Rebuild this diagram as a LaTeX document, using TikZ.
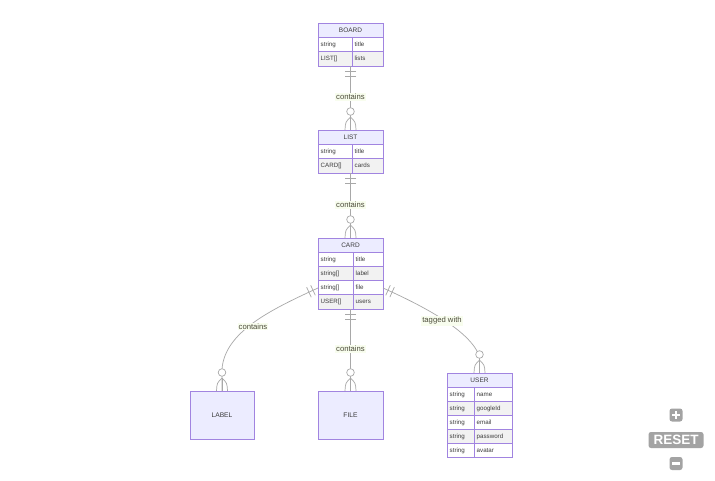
\documentclass[tikz,border=0pt]{standalone}
\usepackage{fontspec}
\setmainfont{Liberation Sans}
\usetikzlibrary{calc}
\definecolor{erborder}{HTML}{A184E0}
\definecolor{erhead}{HTML}{ECECFF}
\definecolor{errow}{HTML}{F2F2F2}
\definecolor{erline}{HTML}{A8A8A8}
\definecolor{ertext}{HTML}{3C3C3C}
\definecolor{lbltext}{HTML}{4C4C3A}
\definecolor{lblfill}{HTML}{F8FDEE}
\definecolor{ctrl}{HTML}{A3A3A3}
\tikzset{
  cell/.style={draw=erborder, line width=0.8pt},
  frame/.style={draw=none, inner sep=0pt, outer sep=0pt},
  hdtext/.style={font=\fontsize{6.5}{7}\selectfont, text=ertext, inner sep=0pt, anchor=base},
  attr/.style={font=\fontsize{6.2}{7}\selectfont, text=ertext, inner sep=0pt, anchor=base west},
  edge/.style={draw=erline, line width=0.7pt},
  rel/.style={font=\fontsize{7.7}{8}\selectfont, text=lbltext, fill=lblfill, inner sep=1pt},
  plainent/.style={draw=erborder, fill=erhead, line width=0.8pt, inner sep=0pt, outer sep=0pt,
    font=\fontsize{6.7}{7}\selectfont, text=ertext},
  ctrlbox/.style={fill=ctrl, rounded corners=2.5pt, inner sep=0pt, outer sep=0pt},
}
\newcommand\erow[8]{%
  \filldraw[cell, fill=#6] (#1,#4) rectangle (#2,#5);
  \filldraw[cell, fill=#6] (#2,#4) rectangle (#3,#5);
  \node[attr] at ({#1+2.5},{(#4+#5)/2+2}) {#7};
  \node[attr] at ({#2+2.5},{(#4+#5)/2+2}) {#8};
}
\newcommand\ehead[6]{%
  \filldraw[cell, fill=erhead] (#2,#4) rectangle (#3,#5);
  \node[hdtext] (#1) at ({(#2+#3)/2},{(#4+#5)/2+2.3}) {#6};
}
\newcommand\onebars[2]{%
  \draw[edge] ($(#1)!5.5pt!(#2)!5.5pt!90:(#2)$) -- ($(#1)!5.5pt!(#2)!5.5pt!-90:(#2)$);
  \draw[edge] ($(#1)!10pt!(#2)!5.5pt!90:(#2)$) -- ($(#1)!10pt!(#2)!5.5pt!-90:(#2)$);
}
\newcommand\zeromany[1]{%
  \draw[edge] ($(#1)+(0,-13)$) -- (#1);
  \draw[edge] ($(#1)+(0,-13)$) .. controls ($(#1)+(-5,-8)$) .. ($(#1)+(-5.5,0)$);
  \draw[edge] ($(#1)+(0,-13)$) .. controls ($(#1)+(5,-8)$) .. ($(#1)+(5.5,0)$);
  \draw[edge, fill=white] ($(#1)+(0,-18.5)$) circle[radius=3.8pt];
}
\begin{document}
\begin{tikzpicture}[x=1pt,y=-1pt]
\useasboundingbox (0,0) rectangle (715,481);
\fill[white] (0,0) rectangle (715,481);

% entity frames (for anchors)
\node[frame, minimum width=65pt, minimum height=43pt] (board) at (350.5,44.5) {};
\node[frame, minimum width=65pt, minimum height=43pt] (list) at (350.5,151.5) {};
\node[frame, minimum width=65pt, minimum height=71pt] (card) at (350.5,273.5) {};
\node[frame, minimum width=65pt, minimum height=84.5pt] (user) at (479.5,415.25) {};

% BOARD
\ehead{boardT}{318}{383}{23}{37.5}{BOARD}
\erow{318}{352}{383}{37.5}{51.5}{white}{string}{title}
\erow{318}{352}{383}{51.5}{66}{errow}{LIST[]}{lists}
% LIST
\ehead{listT}{318}{383}{130}{144.5}{LIST}
\erow{318}{352}{383}{144.5}{158.5}{white}{string}{title}
\erow{318}{352}{383}{158.5}{173}{errow}{CARD[]}{cards}
% CARD
\ehead{cardT}{318}{383}{238}{252.5}{CARD}
\erow{318}{353}{383}{252.5}{266.5}{white}{string}{title}
\erow{318}{353}{383}{266.5}{280.5}{errow}{string[]}{label}
\erow{318}{353}{383}{280.5}{294.5}{white}{string[]}{file}
\erow{318}{353}{383}{294.5}{309}{errow}{USER[]}{users}
% USER
\ehead{userT}{447}{512}{373}{387.5}{USER}
\erow{447}{474}{512}{387.5}{401.5}{white}{string}{name}
\erow{447}{474}{512}{401.5}{415.5}{errow}{string}{googleId}
\erow{447}{474}{512}{415.5}{429.5}{white}{string}{email}
\erow{447}{474}{512}{429.5}{443.5}{errow}{string}{password}
\erow{447}{474}{512}{443.5}{457.5}{white}{string}{avatar}
% LABEL, FILE
\node[plainent, minimum width=64pt, minimum height=48pt] (label) at (222,415) {LABEL};
\node[plainent, minimum width=65pt, minimum height=48pt] (file) at (350.5,415) {FILE};

% connectors
\draw[edge] (board.south) -- (list.north);
\draw[edge] (list.south) -- (card.north);
\draw[edge] (card.south) -- (file.north);
\coordinate (cardL) at ($(card.south west)+(0,-21)$);
\coordinate (cardR) at ($(card.south east)+(0,-21)$);
\draw[edge] (cardL) .. controls (270,310) and (225,332) .. (222,369) -- (label.north);
\draw[edge] (cardR) .. controls (430,309) and (470,332) .. (479.5,356) -- (user.north);

% markers
\onebars{board.south}{list.north}
\onebars{list.south}{card.north}
\onebars{card.south}{file.north}
\onebars{cardL}{270,310}
\onebars{cardR}{430,309}
\zeromany{list.north}
\zeromany{card.north}
\zeromany{file.north}
\zeromany{label.north}
\zeromany{user.north}

% relationship labels
\node[rel] (r1) at (350.5,97) {contains};
\node[rel] (r2) at (350.5,205) {contains};
\node[rel] (r3) at (253,326.5) {contains};
\node[rel] (r4) at (350.5,349) {contains};
\node[rel] (r5) at (442,321) {tagged with};

% zoom controls
\node[ctrlbox, minimum width=13pt, minimum height=13pt] (zin) at (676,415) {};
\draw[white, line width=2.2pt] ($(zin)+(-4,0)$) -- ($(zin)+(4,0)$);
\draw[white, line width=2.2pt] ($(zin)+(0,-4)$) -- ($(zin)+(0,4)$);
\node[ctrlbox, minimum width=55pt, minimum height=16pt, text=white,
  font=\bfseries\fontsize{13.5}{13.5}\selectfont] (reset) at (676,440) {RESET};
\node[ctrlbox, minimum width=13pt, minimum height=13pt] (zout) at (676,463.5) {};
\draw[white, line width=2.2pt] ($(zout)+(-4,0)$) -- ($(zout)+(4,0)$);
\end{tikzpicture}
\end{document}
